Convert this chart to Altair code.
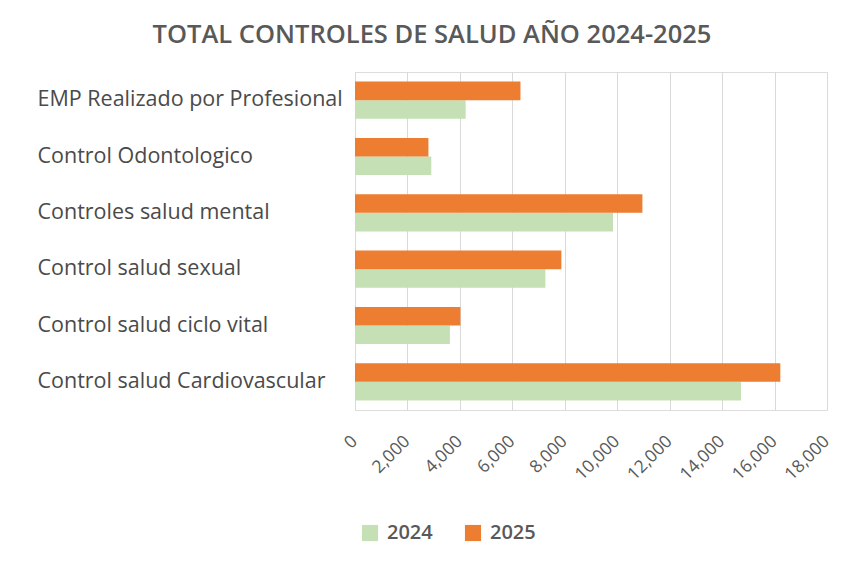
import altair as alt
import pandas as pd

categories = [
    "EMP Realizado por Profesional",
    "Control Odontologico",
    "Controles salud mental",
    "Control salud sexual",
    "Control salud ciclo vital",
    "Control salud Cardiovascular",
]
values_2024 = [4220, 2910, 9840, 7260, 3620, 14720]
values_2025 = [6310, 2800, 10960, 7870, 4020, 16220]
years = ["2024", "2025"]
colors = ["#C5E0B4", "#ED7D31"]
x_ticks = [0, 2000, 4000, 6000, 8000, 10000, 12000, 14000, 16000, 18000]

rows = []
for c, v in zip(categories, values_2024):
    rows.append({"cat": c, "year": "2024", "value": v})
for c, v in zip(categories, values_2025):
    rows.append({"cat": c, "year": "2025", "value": v})
df = pd.DataFrame(rows)

FONT = "Open Sans"
GRAY = "#595959"

chart = (
    alt.Chart(df)
    .mark_bar()
    .encode(
        y=alt.Y(
            "cat:N",
            sort=categories,
            title=None,
            scale=alt.Scale(paddingInner=0.34, paddingOuter=0.17),
            axis=alt.Axis(
                labelAlign="left",
                labelPadding=318,
                labelLimit=400,
                ticks=False,
                domain=False,
                labelFont=FONT,
                labelFontSize=21.5,
                labelColor="#4a4a4a",
            ),
        ),
        yOffset=alt.YOffset("year:N", sort=["2025", "2024"]),
        x=alt.X(
            "value:Q",
            title=None,
            scale=alt.Scale(domain=[0, 18000], nice=False),
            axis=alt.Axis(
                values=x_ticks,
                format=",.0f",
                labelAngle=-45,
                labelOverlap=False,
                labelFont=FONT,
                labelFontSize=17.5,
                labelColor=GRAY,
                labelPadding=22,
                labelOffset=-7,
                ticks=False,
                domain=False,
                gridColor="#D9D9D9",
                gridWidth=1,
            ),
        ),
        color=alt.Color(
            "year:N",
            scale=alt.Scale(domain=years, range=colors),
            legend=alt.Legend(
                title=None,
                orient="none",
                direction="horizontal",
                legendX=5,
                legendY=451,
                symbolType="square",
                symbolSize=260,
                symbolStrokeWidth=0,
                labelFont=FONT,
                labelFontSize=20,
                labelFontWeight=600,
                labelColor=GRAY,
                labelOffset=7,
                columnPadding=30,
            ),
        ),
    )
    .properties(
        width=472,
        height=338,
        padding={"left": 347, "top": 64, "right": 6, "bottom": 149},
        autosize=alt.AutoSizeParams(type="none"),
        title=alt.Title(
            "TOTAL CONTROLES DE SALUD AÑO 2024-2025",
            font=FONT,
            fontSize=25.5,
            fontWeight=600,
            color=GRAY,
            anchor="middle",
            frame="group",
            dx=-159,
            offset=24,
        ),
    )
    .configure_view(strokeWidth=0)
    .configure(background="white")
)

chart.save("out.html", embed_options={"renderer": "svg", "actions": False})
